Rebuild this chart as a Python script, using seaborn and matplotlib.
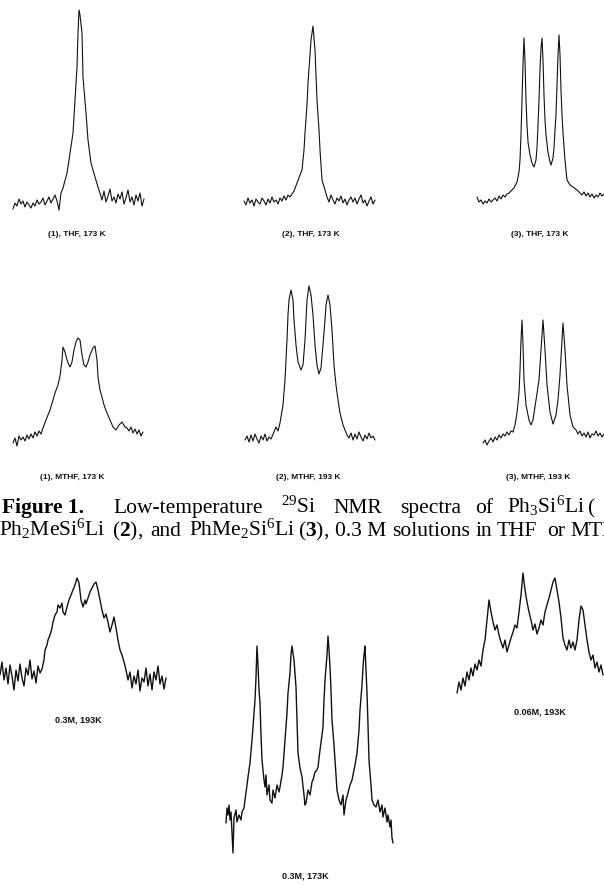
import pandas as pd
import matplotlib.pyplot as plt
import seaborn as sns

# 29Si NMR traces.
# x = channel offset inside each panel, y = signal height above the panel floor.

# row 1: THF, 173 K
thf1_x = [*range(3, 55, 2), 57, 59, 63, 65, 67, 68, 69, 70, 72, 73, 76, 78, 81, 85, 88, *range(90, 136, 2)]
thf1_y = [6, 12, 9, 16, 11, 14, 8, 13, 10, 7, 12, 9, 15, 11, 13, 17, 10, 14, 18, 12, 16, 20, 14, 5, 22, 27,
          42, 55, 82, 115, 148, 182, 205, 200, 182, 138, 102, 75, 52, 38, 28,
          22, 15, 24, 13, 19, 26, 14, 18, 12, 21, 16, 23, 11, 17, 25, 13, 18, 10, 20, 14, 22, 9, 16]

thf2_x = [*range(4, 52, 2), 54, 57, 60, 62, 64, 65, 67, 68, 70, 71, 73, 75, 76, 77, 79, 80, 82, 85, *range(87, 137, 2)]
thf2_y = [14, 10, 17, 12, 15, 9, 16, 13, 11, 17, 14, 10, 16, 12, 18, 13, 15, 11, 17, 14, 19, 15, 20, 18,
          24, 32, 40, 45, 65, 82, 110, 132, 160, 175, 189, 165, 140, 115, 85, 65, 35, 25,
          18, 13, 20, 15, 11, 17, 14, 19, 12, 16, 10, 15, 18, 13, 17, 11, 16, 20, 12, 15, 9, 14, 18, 11, 15]

thf3_x = [*range(7, 41, 2), 44, 47, 49, 50, 51, 52, 53, 54, 55, 56, 57, 58, 60, 62, 64, 66, 67, 68, 69, 70,
          71, 72, 73, 74, 75, 76, 78, 80, 81, 83, 84, 85, 86, 87, 88, 89, 90, 91, 92, 93, 95, 97, 100, 103,
          107, 110, *range(112, 136, 2)]
thf3_y = [18, 13, 15, 11, 14, 12, 16, 13, 15, 17, 14, 19, 16, 20, 18, 21, 22,
          27, 33, 43, 55, 80, 115, 150, 177, 155, 115, 90, 73, 60, 52, 48, 55, 67, 90, 115, 145,
          167, 177, 155, 120, 95, 80, 63, 53, 50, 57, 67, 85, 100, 130, 160, 180, 160, 125, 100, 82,
          55, 35, 30, 28, 25, 22,
          20, 23, 19, 22, 18, 21, 17, 20, 18, 22, 19, 21]

# row 2: MTHF
mthf1_x = [*range(3, 35, 2), 36, 40, 43, 45, 48, 50, 52, 53, 55, 57, 59, 60, 62, 64, 66, 68, 70, 72, 74, 76,
           78, 80, 83, 85, 87, 88, 90, 92, 94, 97, 100, 103, 106, 109, 112, 115, 117, *range(119, 135, 2)]
mthf1_y = [7, 12, 4, 14, 10, 13, 9, 15, 11, 16, 12, 18, 14, 19, 16, 22,
           30, 40, 50, 57, 65, 74, 90, 103, 98, 90, 85, 83, 88, 100, 108, 112, 110, 95, 85, 83,
           88, 95, 102, 104, 90, 73, 60, 53, 45, 37, 30, 23, 20, 25, 28, 23, 22,
           19, 23, 17, 21, 16, 20, 14, 18]

mthf2_x = [*range(5, 33, 2), 34, 36, 38, 40, 43, 45, 47, 48, 49, 51, 53, 54, 56, 58, 61, 63, 65, 66, 67, 69,
           71, 73, 75, 77, 79, 81, 83, 85, 86, 88, 90, 92, 94, 96, 98, 100, 103, 107, *range(109, 137, 2)]
mthf2_y = [10, 14, 8, 15, 9, 16, 11, 7, 14, 10, 16, 9, 13, 11,
           18, 23, 19, 27, 45, 70, 110, 135, 150, 160, 150, 130, 105, 88, 80, 85, 110, 130, 150, 164,
           155, 135, 105, 85, 76, 82, 105, 130, 145, 155, 145, 120, 85, 65, 50, 37, 25, 15,
           12, 17, 10, 16, 11, 18, 13, 9, 15, 11, 17, 12, 14, 10]

mthf3_x = [*range(13, 45, 2), 45, 47, 49, 50, 51, 52, 53, 54, 56, 59, 61, 63, 66, 69, 71, 73, 75, 77, 80, 83,
           86, 88, 90, 92, 93, 95, 97, 100, 103, *range(106, 136, 2)]
mthf3_y = [7, 10, 5, 9, 12, 8, 13, 10, 15, 12, 16, 14, 18, 15, 19, 18,
           25, 37, 57, 80, 110, 130, 105, 70, 45, 30, 25, 30, 50, 70, 100, 130, 100, 65, 38, 26,
           35, 50, 75, 110, 127, 100, 65, 35, 23,
           20, 16, 19, 14, 17, 13, 18, 12, 16, 15, 19, 14, 17, 13, 16]

# row 3: concentration / temperature series
c03_193_x = [*range(0, 44, 2), 44, 45, 47, 48, 50, 52, 53, 55, 57, 58, 60, 62, 63, 65, 67, 69, 71, 73, 75, 77,
             79, 81, 83, 85, 86, 88, 90, 92, 94, 96, 98, 100, 102, 104, 106, 108, 110, 112, 114, 116,
             118, 120, 122, 124, 126, 128, *range(130, 168, 2)]
c03_193_y = [25, 38, 20, 32, 16, 35, 24, 10, 30, 19, 36, 22, 14, 32, 25, 40, 21, 29, 17, 34, 27, 31,
             40, 50, 55, 60, 65, 72, 78, 85, 88, 95, 92, 97, 88, 85, 93, 100, 105, 110, 115, 122,
             117, 100, 93, 100, 96, 102, 108, 112, 116, 118, 110, 100, 90, 82, 86, 78, 68, 75, 83, 72,
             60, 50, 45, 38, 30, 20,
             28, 12, 24, 16, 30, 9, 22, 18, 32, 14, 26, 10, 28, 20, 34, 16, 24, 11, 22]

c03_173_x = [6, 7, 8, 9, 10, 11, 13, 14, 16, 17, 19, 21, 22, 24, 25, 27, 28, 30, 32, 33,
             35, 36, 37, 38, 39, 40, 41, 42, 44, 45, 46, 47, 49, 50, 52, 53, 55, 57, 59, 60,
             62, 63, 65, 67, 68, 70, 71, 72, 74, 76, 77, 78, 80, 82, 84, 85, 86, 88, 90, 92,
             93, 95, 97, 98, 100, 102, 103, 104, 105, 107, 108, 109, 110, 111, 112, 114, 115, 117, 119, 121,
             123, 124, 126, 128, 130, 132, 133, 135, 137, 139, 140, 142, 143, 144, 145, 146, 147, 148, 149, 151,
             152, 154, 156, 158, 160, 162, 163, 165, 167, 168, 170, 171, 172, 173]
c03_173_y = [37, 52, 45, 55, 40, 48, 7, 42, 50, 38, 45, 40, 48, 52, 60, 75, 83, 97, 120, 133,
             160, 183, 214, 195, 170, 157, 125, 100, 80, 73, 85, 65, 75, 60, 57, 70, 62, 75, 68, 73,
             85, 93, 120, 147, 167, 187, 205, 214, 200, 173, 140, 107, 92, 83, 65, 55, 57, 70, 65, 78,
             80, 88, 90, 93, 110, 125, 133, 160, 180, 205, 224, 210, 193, 170, 140, 115, 100, 70, 60, 55,
             65, 45, 60, 67, 75, 80, 85, 95, 107, 130, 150, 175, 193, 205, 214, 190, 167, 135, 100, 75,
             60, 55, 53, 60, 48, 55, 43, 52, 38, 45, 33, 40, 22, 17]

c006_193_x = [*range(7, 155, 2)]
c006_193_y = [7, 18, 10, 22, 14, 28, 20, 32, 24, 36, 30, 40, 34, 50, 60, 80, 100, 88, 78, 70,
              75, 65, 58, 52, 60, 48, 55, 62, 68, 75, 72, 88, 105, 127, 110, 98, 88, 80, 70, 76,
              66, 72, 80, 75, 88, 95, 102, 110, 118, 122, 110, 98, 82, 62, 55, 50, 60, 52, 58, 50,
              60, 80, 94, 90, 75, 60, 48, 40, 45, 32, 38, 28, 35, 25]

W, H = 604, 885

sns.set_theme(style="white")
plt.rcParams["font.family"] = ["Liberation Sans", "DejaVu Sans"]
plt.rcParams["mathtext.fontset"] = "custom"
plt.rcParams["mathtext.rm"] = "Liberation Serif"
plt.rcParams["mathtext.it"] = "Liberation Serif:italic"
plt.rcParams["mathtext.bf"] = "Liberation Serif:bold"

fig = plt.figure(figsize=(W / 100, H / 100), dpi=100)
fig.patch.set_facecolor("white")


def px(x, y):
    """pixel position (top-left origin) -> figure fraction"""
    return x / W, 1 - y / H


def spectrum(xs, ys, left, top, right, bottom, lw=0.8):
    ax = fig.add_axes([left / W, 1 - bottom / H, (right - left) / W, (bottom - top) / H])
    df = pd.DataFrame({"shift": xs, "intensity": ys})
    sns.lineplot(data=df, x="shift", y="intensity", ax=ax, color="#111111",
                 linewidth=lw, estimator=None, sort=False)
    ax.set_xlim(0, right - left)
    ax.set_ylim(0, bottom - top)
    ax.axis("off")
    return ax


spectrum(thf1_x, thf1_y, 10, 0, 150, 215)
spectrum(thf2_x, thf2_y, 240, 0, 380, 215)
spectrum(thf3_x, thf3_y, 470, 0, 604, 215)
spectrum(mthf1_x, mthf1_y, 10, 280, 150, 450)
spectrum(mthf2_x, mthf2_y, 240, 280, 380, 450)
spectrum(mthf3_x, mthf3_y, 470, 280, 604, 450)
spectrum(c03_193_x, c03_193_y, 0, 560, 170, 700, lw=1.0)
spectrum(c03_173_x, c03_173_y, 220, 620, 400, 860, lw=1.0)
spectrum(c006_193_x, c006_193_y, 450, 560, 604, 700, lw=1.0)

# panel labels
small = dict(fontsize=6, fontweight="bold", ha="center", va="center", color="#111111")
for x, y, s in [(77, 235, "(1), THF, 173 K"), (311, 235, "(2), THF, 173 K"), (540, 235, "(3), THF, 173 K"),
                (72, 477, "(1), MTHF, 173 K"), (308, 477, "(2), MTHF, 193 K"), (538, 477, "(3), MTHF, 193 K")]:
    fig.text(*px(x, y), s, **small)

mid = dict(fontsize=6.5, fontweight="bold", ha="center", va="center", color="#111111")
fig.text(*px(78, 720), "0.3M, 193K", **mid)
fig.text(*px(305, 876), "0.3M, 173K", **mid)
fig.text(*px(540, 712), "0.06M, 193K", **mid)

# caption, words set at their positions because the print is justified
# (the page is cropped on the right, so line 2 runs off the edge as in the scan)
cap = dict(fontsize=15.5, family="Liberation Serif", va="baseline", ha="left", color="black")
fig.text(*px(2, 513), "Figure 1.", fontweight="bold", **cap)
for x, s in [(113, "Low-temperature"), (281, "$^{29}$Si"), (333, "NMR"), (400, "spectra"),
             (475, "of"), (507, "Ph$_3$Si$^6$Li"), (588, "(")]:
    fig.text(*px(x, 513), s, **cap)
for x, s in [(-1, "Ph$_2$MeSi$^6$Li"), (112, r"($\mathbf{2}$),"), (150, "and"), (189, "PhMe$_2$Si$^6$Li"),
             (298, r"($\mathbf{3}$),"), (335, "0.3 M"), (392, "solutions"), (475, "in"), (497, "THF"),
             (547, "or"), (570, "MTHF.")]:
    fig.text(*px(x, 536), s, **cap)

fig.savefig("out.png", dpi=100)
